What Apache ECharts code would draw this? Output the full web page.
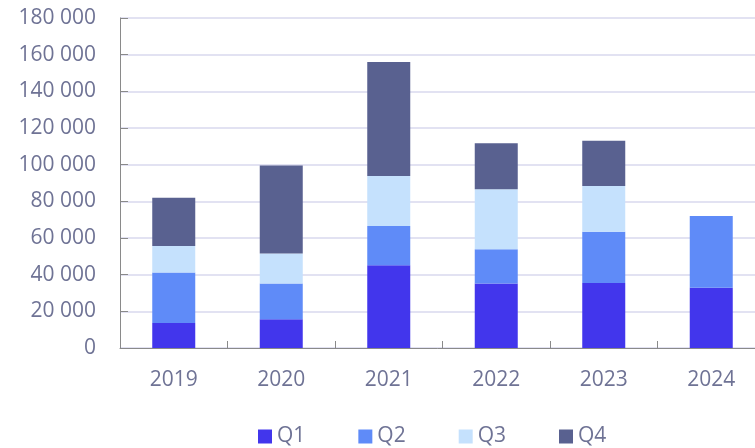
<!DOCTYPE html>
<html>
<head>
<meta charset="utf-8">
<script src="https://cdn.jsdelivr.net/npm/echarts@6/dist/echarts.min.js"></script>
<style>
  html, body { margin: 0; padding: 0; background: #ffffff; }
  #chart { width: 755px; height: 448px; }
</style>
</head>
<body>
<div id="chart"></div>
<script>
// Yearly totals split by quarter (stacked)
const years = ['2019', '2020', '2021', '2022', '2023', '2024'];
const q1 = [13700, 15700, 45200, 35200, 35500, 32800];
const q2 = [27500, 19500, 21300, 18700, 27900, 39200];
const q3 = [14400, 16400, 27300, 32700, 25000, null];
const q4 = [26400, 47900, 62200, 25100, 24700, null];
const quarterNames = ['Q1', 'Q2', 'Q3', 'Q4'];
const quarterColors = ['#4236ec', '#5f8bf8', '#c5e1fd', '#596190'];

const textColor = '#6f7395';
const font = 'Open Sans';

const seriesData = [q1, q2, q3, q4];

const chart = echarts.init(document.getElementById('chart'), null, { renderer: 'canvas' });
chart.setOption({
  animation: false,
  backgroundColor: '#ffffff',
  // plot area runs slightly past the right edge of the canvas
  grid: { left: 120, width: 645, top: 18, bottom: 100, containLabel: false, outerBoundsMode: 'none' },
  legend: {
    top: 421,
    left: 253,
    itemWidth: 14,
    itemHeight: 14,
    itemGap: 53,
    icon: 'rect',
    textStyle: { color: textColor, fontSize: 21, fontFamily: font },
    data: quarterNames
  },
  xAxis: {
    type: 'category',
    data: years,
    axisLine: { lineStyle: { color: '#8a8a8a', width: 1 } },
    axisTick: { show: true, inside: true, length: 7, lineStyle: { color: '#8a8a8a' } },
    axisLabel: { color: textColor, fontSize: 21, fontFamily: font, margin: 22 }
  },
  yAxis: {
    type: 'value',
    min: 0,
    max: 180000,
    interval: 20000,
    axisLine: { show: true, lineStyle: { color: '#8a8a8a', width: 1 } },
    axisTick: { show: true, inside: true, length: 8, lineStyle: { color: '#8a8a8a' } },
    splitLine: { lineStyle: { color: '#e2e2f2', width: 2 } },
    axisLabel: {
      color: textColor, fontSize: 21, fontFamily: font, margin: 24,
      formatter: v => String(v).replace(/\B(?=(\d{3})+(?!\d))/g, ' ')
    }
  },
  series: quarterNames.map((name, i) => ({
    name,
    type: 'bar',
    stack: 'total',
    barWidth: 43,
    data: seriesData[i],
    itemStyle: { color: quarterColors[i] }
  }))
});
</script>
</body>
</html>
